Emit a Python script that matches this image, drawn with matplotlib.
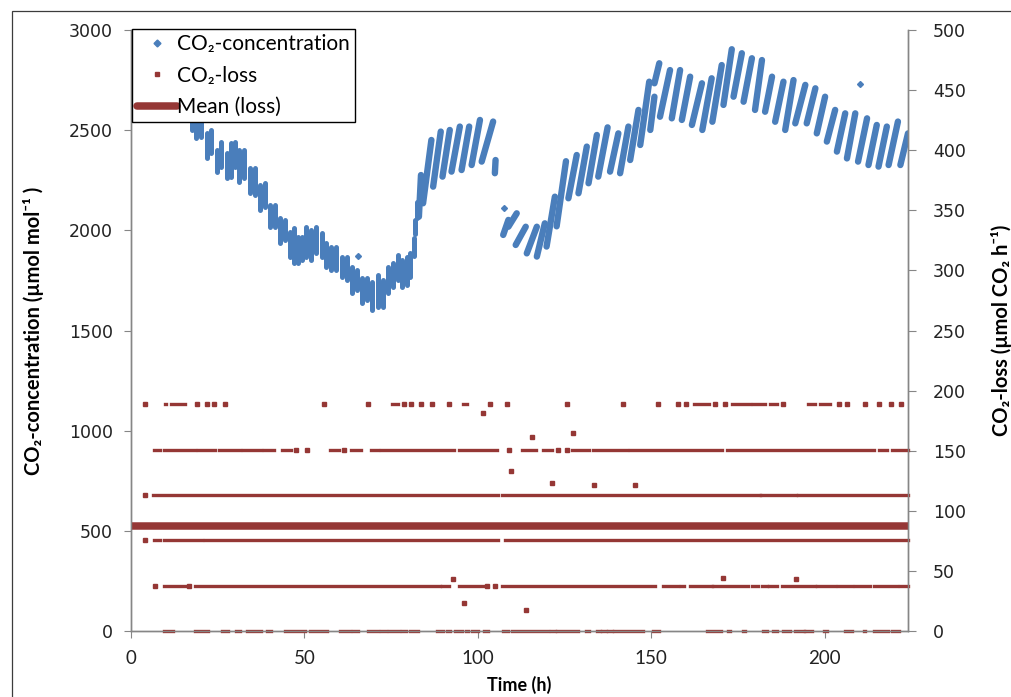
import matplotlib
matplotlib.use("Agg")
import matplotlib.pyplot as plt
from matplotlib.lines import Line2D
from matplotlib.patches import Rectangle

# CO2-concentration, falling phase: short near-vertical bursts (time, low, high)
fall_t = [5.0, 6.5, 8.0, 9.4, 10.9, 12.3, 13.8, 15.2, 16.6, 17.6,
          18.85, 20.29, 22.02, 23.18, 24.91, 26.06, 27.79, 28.94, 29.91, 31.06,
          32.6, 34.24, 35.68, 37.12, 38.57, 40.01, 41.45, 42.9, 44.34, 45.78,
          47.03, 48.19, 49.43, 50.59, 52.03, 53.47, 54.92, 56.36, 57.8, 59.24,
          60.69, 62.13, 63.57, 65.02, 66.46, 67.9, 69.34, 71.27, 72.71, 74.15,
          75.6, 77.04, 78.0, 79.44, 80.4, 81.6, 82.0, 82.4]
fall_lo = [2800, 2790, 2760, 2740, 2720, 2700, 2680, 2660, 2620, 2500,
           2459, 2468, 2360, 2385, 2293, 2318, 2260, 2268, 2318, 2243,
           2260, 2185, 2177, 2102, 2118, 2018, 2018, 1935, 1952, 1869,
           1835, 1835, 1852, 1869, 1852, 1885, 1869, 1819, 1802, 1802,
           1769, 1752, 1686, 1702, 1636, 1652, 1602, 1619, 1619, 1686,
           1719, 1752, 1719, 1727, 1769, 1870, 1980, 2060]
fall_hi = [2900, 2890, 2870, 2850, 2830, 2810, 2790, 2770, 2740, 2610,
           2551, 2551, 2484, 2501, 2401, 2443, 2385, 2434, 2443, 2401,
           2401, 2310, 2310, 2226, 2235, 2127, 2127, 2060, 2052, 1994,
           2010, 1969, 1969, 2018, 2002, 2018, 1985, 1935, 1919, 1919,
           1869, 1869, 1819, 1802, 1761, 1761, 1744, 1777, 1752, 1819,
           1835, 1877, 1852, 1869, 1885, 1960, 2050, 2140]

# CO2-concentration, rising teeth: start time, end time, start value, end value
tooth_t0 = [83.0, 84.2, 87.1, 89.8, 92.4, 95.3, 98.2, 101.1, 104.9,
            107.3, 108.8, 110.9, 114.1, 117.0, 119.8, 122.7, 126.1, 129.0, 131.9,
            134.7, 138.1, 141.0, 143.9, 146.8, 149.7, 150.9, 152.5, 155.9, 158.8,
            161.7, 164.7, 167.6, 170.8, 173.7, 176.6, 179.9, 182.8, 185.7, 188.6,
            191.5, 194.8, 197.7, 200.6, 203.5, 206.4, 209.6, 212.6, 215.5, 218.4,
            221.8]
tooth_t1 = [83.6, 86.6, 89.3, 91.9, 94.8, 97.5, 100.6, 104.4, 105.1,
            108.8, 111.2, 113.8, 117.0, 119.3, 122.2, 125.4, 128.5, 131.4, 134.3,
            137.4, 140.5, 143.4, 146.3, 149.4, 150.9, 152.3, 155.4, 158.3, 161.2,
            164.6, 167.4, 170.3, 173.2, 176.1, 179.0, 181.9, 184.8, 188.1, 191.0,
            194.4, 197.3, 200.1, 203.0, 205.9, 208.8, 212.2, 215.0, 217.9, 221.1,
            224.0]
tooth_c0 = [2068, 2135, 2218, 2268, 2293, 2301, 2326, 2343, 2285,
            1977, 2018, 1927, 1885, 1869, 1919, 2020, 2160, 2185, 2235,
            2268, 2293, 2285, 2351, 2426, 2501, 2734, 2567, 2559, 2551,
            2526, 2501, 2542, 2626, 2667, 2642, 2601, 2592, 2542, 2501,
            2534, 2534, 2484, 2443, 2393, 2359, 2343, 2326, 2318, 2326,
            2326]
tooth_c1 = [2276, 2451, 2493, 2501, 2518, 2518, 2551, 2543, 2351,
            2052, 2085, 2018, 2018, 2035, 2168, 2345, 2376, 2418, 2476,
            2514, 2484, 2518, 2601, 2742, 2667, 2834, 2800, 2800, 2767,
            2734, 2759, 2825, 2904, 2884, 2859, 2850, 2767, 2742, 2750,
            2726, 2709, 2667, 2601, 2584, 2584, 2559, 2526, 2518, 2543,
            2484]

conc_single_t = [65.5, 107.5, 210.2]
conc_single_c = [1872, 2110, 2730]

# CO2-loss: discrete levels, stretches of dense readings (start, end) and lone readings
loss_levels = [0.0, 37.7, 75.4, 113.1, 150.8, 188.5]
loss_runs = [
    [(9.5, 12.1), (18.4, 22.2), (26.3, 28.0), (30.4, 31.4), (33.3, 37.6), (39.3, 40.3),
     (44.3, 50.1), (51.5, 56.4), (60.2, 63.1), (64.1, 65.3), (68.2, 71.1), (72.2, 73.4),
     (74.3, 77.2), (78.2, 79.4), (80.4, 82.6), (88.1, 90.0), (91.0, 92.0), (93.4, 95.3),
     (96.5, 97.2), (98.2, 100.1), (101.8, 103.0), (107.3, 108.8), (109.7, 120.3),
     (121.1, 122.1), (122.7, 129.0), (131.1, 132.0), (134.3, 135.2), (135.9, 136.9),
     (137.6, 138.6), (139.1, 147.7), (150.6, 152.1), (166.0, 170.1), (172.1, 172.7),
     (176.4, 177.1), (182.3, 183.3), (185.2, 186.2), (188.1, 190.0), (191.3, 193.9),
     (194.4, 196.3), (199.9, 200.6), (205.9, 207.8), (211.2, 211.7), (214.1, 218.2),
     (219.4, 221.3)],
    [(9.5, 15.5), (18.4, 89.0), (89.7, 91.6), (94.6, 101.6), (107.0, 151.1), (153.5, 157.8),
     (158.6, 159.3), (161.2, 167.4), (167.9, 178.0), (179.0, 180.9), (181.9, 183.3),
     (184.0, 186.2), (187.6, 197.3), (197.7, 203.0), (203.8, 207.8), (208.8, 213.1),
     (214.1, 220.8), (221.8, 224.0)],
    [(6.6, 8.3), (9.5, 20.5), (21.4, 105.7), (107.8, 224.0)],
    [(6.4, 105.7), (107.0, 181.2), (181.6, 191.8), (192.2, 224.0)],
    [(6.6, 8.3), (9.5, 18.4), (19.3, 24.3), (25.3, 31.3), (32.3, 37.4), (38.4, 41.3),
     (43.4, 46.1), (57.3, 59.9), (63.3, 66.2), (69.2, 71.1), (72.2, 93.2), (94.6, 105.4),
     (112.6, 116.7), (118.9, 121.3), (127.0, 131.9), (133.3, 142.9), (143.9, 170.3),
     (171.8, 214.1), (215.5, 217.9), (219.4, 224.0)],
    [(9.7, 10.2), (11.6, 15.5), (75.1, 77.0), (95.8, 97.0), (162.2, 166.5), (173.2, 178.5),
     (179.2, 182.8), (184.3, 186.2), (195.3, 197.1), (198.7, 201.6)],
]
loss_single = [
    [],
    [7.0, 16.6, 102.5, 104.9],
    [3.9],
    [3.9],
    [47.7, 50.8, 61.5, 109.1, 123.0, 125.6],
    [3.9, 18.9, 21.9, 23.9, 27.0, 55.7, 68.4, 78.8, 80.7, 83.6, 86.9, 91.6, 103.5, 108.5,
     125.6, 141.7, 151.9, 157.8, 159.9, 168.4, 171.1, 188.1, 204.0, 206.4, 211.7, 215.5,
     219.2, 222.0],
]
loss_odd_t = [92.9, 96.0, 101.6, 109.5, 113.9, 115.5, 121.5, 127.5, 133.5, 145.3, 170.6, 191.7]
loss_odd_v = [43.0, 23.0, 181.6, 133.4, 17.5, 161.7, 123.4, 165.0, 121.2, 121.5, 44.4, 43.0]
loss_mean = 87.4

BLUE = "#4A7EBB"
RED = "#953735"
GRID = "#868686"
TXT = ["Lato", "DejaVu Sans"]

fig = plt.figure(figsize=(10.11, 6.97), dpi=100)
ax = fig.add_axes([131 / 1011, 1 - 631 / 697, (908 - 131) / 1011, (631 - 30) / 697])
ax2 = ax.twinx()

# chart area border (only top and left edges fall inside the crop)
fig.add_artist(Rectangle((12 / 1011, -0.1), 1.2, 1 - 11 / 697 + 0.1,
                         transform=fig.transFigure, fill=False,
                         edgecolor="#3c3c3c", lw=0.9))

# concentration
ax.vlines(fall_t, fall_lo, fall_hi, color=BLUE, lw=3.6, capstyle="round")
for t0, t1, c0, c1 in zip(tooth_t0, tooth_t1, tooth_c0, tooth_c1):
    ax.plot([t0, t1], [c0, c1], color=BLUE, lw=4.6, solid_capstyle="round")
ax.plot(conc_single_t, conc_single_c, ls="none", marker="D", ms=3.0, color=BLUE)

# loss
for lvl, runs, lone in zip(loss_levels, loss_runs, loss_single):
    ax2.hlines([lvl] * len(runs), [r[0] for r in runs], [r[1] for r in runs],
               color=RED, lw=2.4, capstyle="projecting", clip_on=False)
    if lone:
        ax2.plot(lone, [lvl] * len(lone), ls="none", marker="s", ms=3.2,
                 color=RED, clip_on=False)
ax2.plot(loss_odd_t, loss_odd_v, ls="none", marker="s", ms=3.2, color=RED)
ax2.axhline(loss_mean, color=RED, lw=5.4)

ax.set_xlim(0, 224)
ax.set_ylim(0, 3000)
ax2.set_ylim(0, 500)
ax.set_xticks([0, 50, 100, 150, 200])
ax.set_yticks(range(0, 3001, 500))
ax2.set_yticks(range(0, 501, 50))

for a in (ax, ax2):
    a.spines["top"].set_visible(False)
    for s in ("left", "right", "bottom"):
        a.spines[s].set_color(GRID)
        a.spines[s].set_linewidth(1.0)
ax.tick_params(axis="y", direction="out", length=5, width=0.8, color=GRID, pad=8,
               labelsize=12.5, labelfontfamily="DejaVu Sans", labelcolor="#222222")
ax2.tick_params(axis="y", direction="out", length=6, width=0.8, color=GRID, pad=12,
                labelsize=12.5, labelfontfamily="DejaVu Sans", labelcolor="#222222")
ax.tick_params(axis="x", direction="out", length=5, width=0.8, color=GRID, pad=9,
               labelsize=13.5, labelfontfamily="Lato", labelcolor="#222222")

ax.set_xlabel("Time (h)", family=TXT, fontsize=13, fontweight="bold", labelpad=6)
ax.set_ylabel("CO\u2082-concentration (\u00b5mol mol\u207b\u00b9 )", family=TXT,
              fontsize=14.5, fontweight="bold", labelpad=18)
ax2.set_ylabel("CO\u2082-loss (\u00b5mol CO\u2082 h\u207b\u00b9)", family=TXT,
               fontsize=14.5, fontweight="bold", labelpad=18)

handles = [
    Line2D([], [], ls="none", marker="D", ms=3.5, color=BLUE),
    Line2D([], [], ls="none", marker="s", ms=3.5, color=RED),
    Line2D([], [], color=RED, lw=5.4, solid_capstyle="round"),
]
labels = ["CO\u2082-concentration", "CO\u2082-loss", "Mean (loss)"]
leg = ax2.legend(handles, labels, loc="upper left",
                 bbox_to_anchor=(132 / 1011, 1 - 29 / 697), bbox_transform=fig.transFigure,
                 borderaxespad=0, frameon=True, fancybox=False, framealpha=1,
                 edgecolor="black", prop={"family": TXT, "size": 15},
                 handlelength=1.9, handletextpad=0.0, labelspacing=0.55,
                 borderpad=0.25)
leg.get_frame().set_linewidth(1.0)

fig.savefig("out.png", dpi=100)
